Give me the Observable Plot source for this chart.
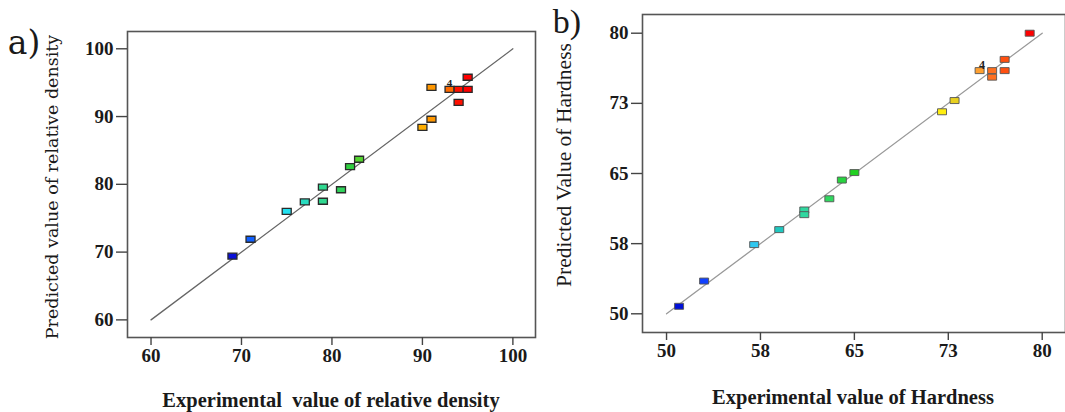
<!DOCTYPE html>
<html>
<head>
<meta charset="utf-8">
<script src="https://cdn.jsdelivr.net/npm/d3@7"></script>
<script src="https://cdn.jsdelivr.net/npm/@observablehq/plot@0.6"></script>
<style>
  html, body { margin: 0; padding: 0; background: #fff; }
  #wrap { position: relative; width: 1065px; height: 412px; overflow: hidden; background: #fff; }
  .panel { position: absolute; top: 0; }
  .lab { position: absolute; white-space: nowrap; color: #1a1a1a; line-height: 1; }
</style>
</head>
<body>
<div id="wrap"></div>
<script>
// ---- Data: panel a (relative density) ----
const densityActual    = [69, 71, 75, 77, 79, 79, 81, 82, 83, 90, 91, 91, 93, 94, 95, 95, 94];
const densityPredicted = [69.4, 71.9, 76.0, 77.4, 79.6, 77.5, 79.2, 82.6, 83.7, 88.4, 89.6, 94.3, 94.0, 94.0, 94.0, 95.8, 92.1];
const densityTicks = [60, 70, 80, 90, 100];
const densityLine = [60, 100];
const densityNote = [{x: 93, y: 94.9, text: "4"}];

// ---- Data: panel b (hardness) ----
const hardActual    = [51, 53, 57, 59, 61, 61, 63, 64, 65, 72, 73, 75, 76, 76, 77, 77, 79];
const hardPredicted = [50.8, 53.5, 57.4, 59.0, 61.1, 60.6, 62.3, 64.3, 65.1, 71.6, 72.8, 76.0, 76.0, 75.3, 77.2, 76.0, 80.0];
const hardTicks = [50, 57.5, 65, 72.5, 80];
const hardTickLabels = ["50", "58", "65", "73", "80"];
const hardLine = [50, 80];
const hardNote = [{x: 75.2, y: 76.6, text: "4"}];

// ---- text ----
const titles = {a: "a)", b: "b)"};
const labels = {
  ax: "Experimental\u00a0 value of relative density",
  ay: "Predicted value of relative density",
  bx: "Experimental value of Hardness",
  by: "Predicted Value of Hardness"
};

// rectangular marker symbol
const rectSymbol = {
  draw(ctx, size) {
    const w = 9, h = 6;
    ctx.rect(-w / 2, -h / 2, w, h);
  }
};

const wrap = document.getElementById("wrap");

function panel({xs, ys, xDomain, yDomain, ticks, tickFormat, line, lineStroke, note, colorDomain, colorRange,
                left, width, mt, mb, ml, mr, markStroke, markStrokeWidth, noteSize}) {
  const data = xs.map((x, i) => ({x, y: ys[i]}));
  const svg = Plot.plot({
    width, height: 412,
    marginTop: mt, marginBottom: mb, marginLeft: ml, marginRight: mr,
    style: {fontFamily: "'Liberation Serif', 'Times New Roman', serif", background: "transparent", color: "#222"},
    x: {domain: xDomain},
    y: {domain: yDomain},
    color: {type: "linear", domain: colorDomain, range: colorRange, interpolate: "rgb"},
    marks: [
      Plot.frame({stroke: "#555", strokeWidth: 1.6}),
      Plot.axisX({ticks, tickFormat, tickSize: 8, tickPadding: 3, fontSize: 19, fontWeight: "bold", stroke: "#444", strokeWidth: 1.4, fill: "#1a1a1a", label: null}),
      Plot.axisY({ticks, tickFormat, tickSize: 11, tickPadding: 3, fontSize: 19, fontWeight: "bold", stroke: "#444", strokeWidth: 1.4, fill: "#1a1a1a", label: null}),
      Plot.line(line, {x: d => d, y: d => d, stroke: lineStroke, strokeWidth: 1.3}),
      Plot.dot(data, {x: "x", y: "y", symbol: rectSymbol, r: 4, fill: "x", stroke: markStroke, strokeWidth: markStrokeWidth}),
      Plot.text(note, {x: "x", y: "y", text: "text", fontSize: noteSize, fontWeight: "bold", fill: "#222"})
    ]
  });
  svg.classList.add("panel");
  svg.style.left = left + "px";
  wrap.appendChild(svg);
}

panel({
  xs: densityActual, ys: densityPredicted,
  xDomain: [57.4, 102.5], yDomain: [57.4, 102.55],
  ticks: densityTicks, tickFormat: d => String(d),
  line: densityLine, lineStroke: "#666", note: densityNote,
  colorDomain: [69, 71, 75, 79, 82, 86, 90, 93, 94, 95],
  colorRange: ["#0a10d8", "#1060ff", "#20e0f0", "#30d890", "#30d040", "#c0e000", "#ffae00", "#ff6a00", "#ff1000", "#ff0000"],
  left: 0, width: 545, mt: 31, mb: 75, ml: 127, mr: 10,
  markStroke: "#2a2a2a", markStrokeWidth: 1.3, noteSize: 11
});

panel({
  xs: hardActual, ys: hardPredicted,
  xDomain: [48.08, 81.86], yDomain: [48.0, 82.0],
  ticks: hardTicks, tickFormat: d => hardTickLabels[hardTicks.indexOf(d)],
  line: hardLine, lineStroke: "#999", note: hardNote,
  colorDomain: [51, 53, 57, 59, 61, 63, 65, 72, 73, 75, 76, 77, 79],
  colorRange: ["#0010d8", "#1040ff", "#30c8f0", "#20c8c0", "#30d8a0", "#30d860", "#20d020", "#ffee10", "#e8d020", "#ffa030", "#ff7020", "#ff5010", "#ff0000"],
  left: 580, width: 486, mt: 14, mb: 80, ml: 62, mr: 1,
  markStroke: "#555", markStrokeWidth: 0.9, noteSize: 12
});

function addLabel(text, x, y, css, rotate) {
  const d = document.createElement("div");
  d.className = "lab";
  d.textContent = text;
  d.style.left = x + "px";
  d.style.top = y + "px";
  d.style.transform = "translate(-50%, -50%)" + (rotate ? " rotate(-90deg)" : "");
  Object.assign(d.style, css);
  wrap.appendChild(d);
}

addLabel(titles.a, 24, 42, {fontFamily: "'DejaVu Serif', serif", fontSize: "33px"});
addLabel(titles.b, 567, 22, {fontFamily: "'Liberation Serif', 'Times New Roman', serif", fontSize: "34px"});
addLabel(labels.ax, 331, 400, {fontFamily: "'Liberation Serif', 'Times New Roman', serif", fontSize: "20.5px", fontWeight: "bold"});
addLabel(labels.bx, 853, 397, {fontFamily: "'Liberation Serif', 'Times New Roman', serif", fontSize: "20.5px", fontWeight: "bold"});
addLabel(labels.ay, 53, 187, {fontFamily: "'DejaVu Serif', serif", fontSize: "17.5px"}, true);
addLabel(labels.by, 565, 165, {fontFamily: "'Liberation Serif', 'Times New Roman', serif", fontSize: "21.5px"}, true);
</script>
</body>
</html>
